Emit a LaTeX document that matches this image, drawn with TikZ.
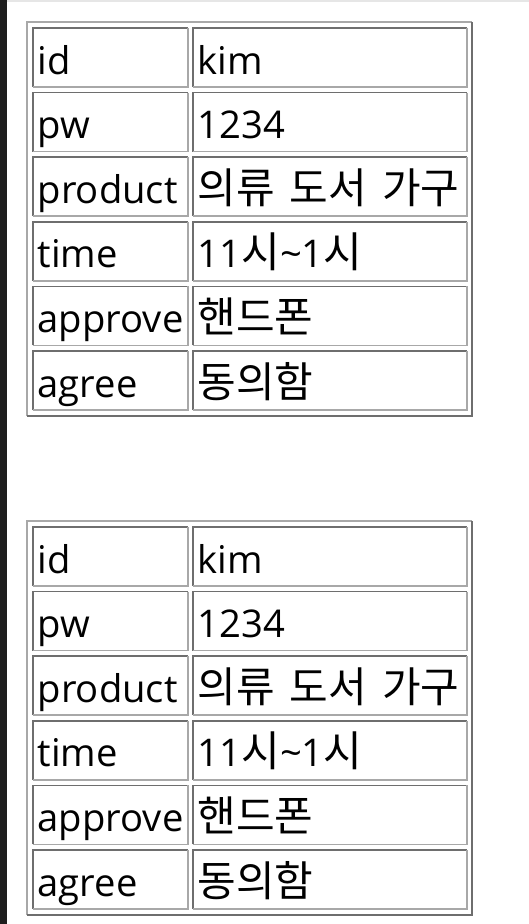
\documentclass[tikz,border=0pt]{standalone}
\usepackage{fontspec}
\setmainfont{Open Sans}
\newfontfamily\kor{Noto Sans CJK KR}
\definecolor{stripc}{HTML}{1E1E1E}
\definecolor{topc}{HTML}{E6E6E6}
\definecolor{dkc}{HTML}{6E6E6E}
\definecolor{ltc}{HTML}{A8A8A8}
\newcommand\kk[1]{{\kor\fontsize{42}{44}\selectfont\spaceskip=15pt\relax #1}}
\newcommand\cellframe[4]{%
  \draw[dkline] (#1,#4) -- (#1,#2) -- (#3,#2);
  \draw[ltline] (#3,#2) -- (#3,#4) -- (#1,#4);}
\newcommand\tabframe[4]{%
  \draw[ltline] (#1,#4) -- (#1,#2) -- (#3,#2);
  \draw[dkline] (#3,#2) -- (#3,#4) -- (#1,#4);}
\tikzset{
  dkline/.style={draw=dkc,line width=1.6pt},
  ltline/.style={draw=ltc,line width=1.6pt},
  celltext/.style={anchor=base west,inner sep=0pt,font=\fontsize{38.2}{44}\selectfont,text=black},
}
\begin{document}
\begin{tikzpicture}[x=1pt,y=-1pt]
\useasboundingbox (0,0) rectangle (529,924);
\fill[white] (0,0) rectangle (529,924);
\fill[stripc] (0,0) rectangle (7,924);
\fill[topc] (7,0) rectangle (529,2);
\foreach \t/\oy in {1/0,2/499}{
  \tabframe{27}{22+\oy}{472}{416+\oy}
  \foreach \i/\a/\b in {0/id/kim,1/pw/1234,2/product/\kk{의류 도서 가구},3/time/{11\kk{시}\textasciitilde1\kk{시}},4/approve/\kk{핸드폰},5/agree/\kk{동의함}}{
    \pgfmathsetmacro\top{28+\oy+64.6*\i}
    \pgfmathsetmacro\bot{\top+59}
    \cellframe{33}{\top}{188}{\bot}
    \cellframe{193}{\top}{467}{\bot}
    \node[celltext] (k\t r\i) at (37.5,\top+46) {\a};
    \node[celltext] (v\t r\i) at (197.5,\top+46) {\b};
  }
}
\end{tikzpicture}
\end{document}
